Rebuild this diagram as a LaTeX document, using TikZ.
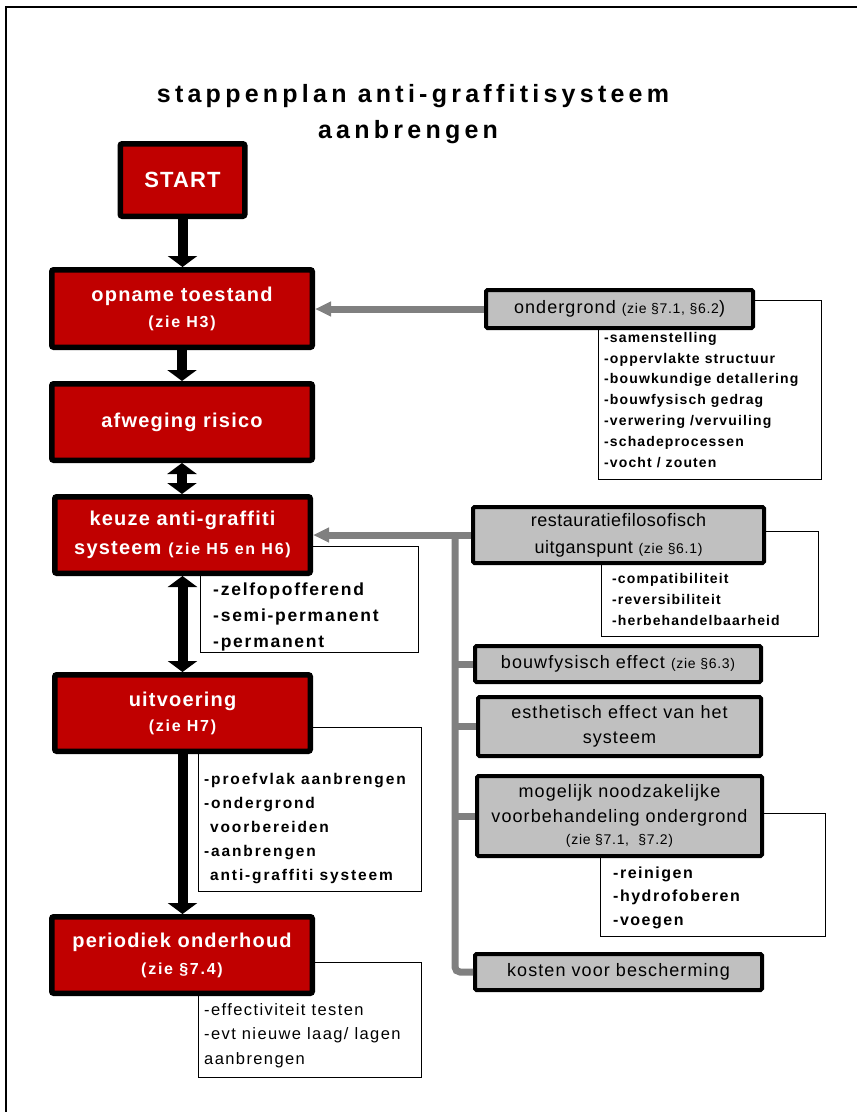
\documentclass[tikz,border=0pt]{standalone}
\usepackage{fontspec}
\setmainfont{Liberation Sans}
\usetikzlibrary{arrows.meta}
\definecolor{boxred}{RGB}{192,0,0}
\definecolor{boxgray}{RGB}{192,192,192}
\definecolor{linegray}{RGB}{128,128,128}
\newcommand\fsz[3]{\fontsize{#1}{#2}\selectfont\addfontfeature{LetterSpace=#3}}
\begin{document}
\begin{tikzpicture}[x=1pt,y=-1pt,
  redbox/.style={draw=black, line width=5.5pt, fill=boxred, rounded corners=2pt, text=white, align=center, inner sep=0pt},
  graybox/.style={draw=black, line width=4pt, fill=boxgray, rounded corners=1.5pt, text=black, align=center, inner sep=0pt},
  listbox/.style={draw=black, line width=1.3pt, fill=white, inner sep=0pt, anchor=north west},
  listtext/.style={anchor=base west, align=left, inner sep=0pt},
  blackarrow/.style={line width=10pt, -{Triangle[width=29pt,length=11pt]}},
  blackdouble/.style={line width=10pt, {Triangle[width=29pt,length=11pt]}-{Triangle[width=29pt,length=11pt]}},
  grayline/.style={draw=linegray, line width=7pt},
  grayarrow/.style={grayline, -{Triangle[width=14pt,length=16pt]}},
]
\useasboundingbox (0,0) rectangle (857,1112);
\draw[line width=2pt] (6,1112) -- (6,6.5) -- (857,6.5);

% title
\node[anchor=base, inner sep=0pt, font=\bfseries\fsz{25}{36}{17}] (title1) at (413,102) {stappenplan anti-graffitisysteem};
\node[anchor=base, inner sep=0pt, font=\bfseries\fsz{25}{36}{17}] (title2) at (408,138) {aanbrengen};

% list boxes (text anchored at the baseline of its last line)
\node[listbox, minimum width=222.7pt, minimum height=178.7pt] (l1) at (598,300) {};
\node[listtext, font=\bfseries\fsz{14}{20.8}{8}] (l1t) at (604,467) {-samenstelling\\-oppervlakte structuur\\-bouwkundige detallering\\-bouwfysisch gedrag\\-verwering /vervuiling\\-schadeprocessen\\-vocht / zouten};

\node[listbox, minimum width=216.7pt, minimum height=104.7pt] (l2) at (601,531) {};
\node[listtext, font=\bfseries\fsz{14}{21}{8}] (l2t) at (612,625) {-compatibiliteit\\-reversibiliteit\\-herbehandelbaarheid};

\node[listbox, minimum width=217.7pt, minimum height=105.7pt] (l3) at (200,546) {};
\node[listtext, font=\bfseries\fsz{17.5}{26}{10}] (l3t) at (213,647) {-zelfopofferend\\-semi-permanent\\-permanent};

\node[listbox, minimum width=222.7pt, minimum height=163.7pt] (l4) at (198,727) {};
\node[listtext, font=\bfseries\fsz{15.5}{23.8}{12}] (l4t) at (204,880) {-proefvlak aanbrengen\\-ondergrond\\\hspace*{6pt}voorbereiden\\-aanbrengen\\\hspace*{6pt}anti-graffiti systeem};

\node[listbox, minimum width=224.7pt, minimum height=122.7pt] (l5) at (600,813) {};
\node[listtext, font=\bfseries\fsz{16}{23.5}{9.5}] (l5t) at (613,925) {-reinigen\\-hydrofoberen\\-voegen};

\node[listbox, minimum width=222.7pt, minimum height=114.7pt] (l6) at (198,962) {};
\node[listtext, font=\fsz{16.5}{24.5}{8.5}] (l6t) at (204,1064) {-effectiviteit testen\\-evt nieuwe laag/ lagen\\aanbrengen};

% red boxes
\node[redbox, minimum width=124.5pt, minimum height=72.5pt, font=\bfseries\fsz{22}{26}{5}] (start) at (182.5,180) {START};
\node[redbox, minimum width=260.5pt, minimum height=77.5pt, font=\bfseries\fsz{20}{26}{6}] (opname) at (182,308.5) {opname toestand\\{\fsz{16}{26}{11}(zie H3)}};
\node[redbox, minimum width=260.5pt, minimum height=76.5pt, font=\bfseries\fsz{20}{26}{6}] (afweging) at (182,422) {afweging risico};
\node[redbox, minimum width=255.5pt, minimum height=76.5pt, font=\bfseries\fsz{20}{29}{6}] (keuze) at (182.5,535) {keuze anti-graffiti\\systeem {\fsz{16}{29}{11}(zie H5 en H6)}};
\node[redbox, minimum width=255.5pt, minimum height=76.5pt, font=\bfseries\fsz{20}{25}{6}] (uitvoering) at (182.5,713) {uitvoering\\{\fsz{16}{25}{11}(zie H7)}};
\node[redbox, minimum width=260.5pt, minimum height=76.5pt, font=\bfseries\fsz{20}{27}{6}] (periodiek) at (182,955) {periodiek onderhoud\\{\fsz{16}{27}{11}(zie §7.4)}};

% gray boxes
\node[graybox, minimum width=267pt, minimum height=38pt, font=\fsz{18}{20}{6}] (ondergrond) at (619.5,309) {ondergrond {\fsz{14}{20}{5}(zie §7.1, §6.2}\addfontfeature{LetterSpace=0})};
\node[graybox, minimum width=291pt, minimum height=56pt, font=\fsz{18}{27}{3}] (restauratie) at (618.5,535) {restauratiefilosofisch\\uitganspunt {\fsz{14}{27}{5}(zie §6.1)}};
\node[graybox, minimum width=286pt, minimum height=36pt, font=\fsz{18}{20}{6}] (bouwfysisch) at (618,664) {bouwfysisch effect {\fsz{14}{20}{5}(zie §6.3)}};
\node[graybox, minimum width=283pt, minimum height=59pt, font=\fsz{18}{25}{6}] (esthetisch) at (619.5,726.5) {esthetisch effect van het\\systeem};
\node[graybox, minimum width=285pt, minimum height=80pt, font=\fsz{18}{25}{6}] (mogelijk) at (619.5,816) {mogelijk noodzakelijke\\voorbehandeling ondergrond\\[-3pt]{\fsz{14}{25}{5}(zie §7.1,\ \ §7.2)}};
\node[graybox, minimum width=287pt, minimum height=36pt, font=\fsz{18}{20}{6}] (kosten) at (618.5,972) {kosten voor bescherming};

% black flow arrows
\draw[blackarrow] (start.south) -- (start.south |- opname.north);
\draw[blackarrow] (opname.south) -- (afweging.north);
\draw[blackdouble] (afweging.south) -- (afweging.south |- keuze.north);
\draw[blackdouble] (keuze.south) -- (uitvoering.north);
\draw[blackarrow] (uitvoering.south) -- (uitvoering.south |- periodiek.north);

% gray connectors
\coordinate (trunk) at (455,535);
\draw[grayarrow] (ondergrond.west) -- (ondergrond.west -| opname.east);
\draw[grayarrow] (restauratie.west) -- (restauratie.west -| keuze.east);
\draw[grayline, rounded corners=5pt] (trunk) |- (kosten.west);
\draw[grayline] (trunk |- bouwfysisch.west) -- (bouwfysisch.west);
\draw[grayline] (trunk |- esthetisch.west) -- (esthetisch.west);
\draw[grayline] (trunk |- mogelijk.west) -- (mogelijk.west);
\end{tikzpicture}
\end{document}
